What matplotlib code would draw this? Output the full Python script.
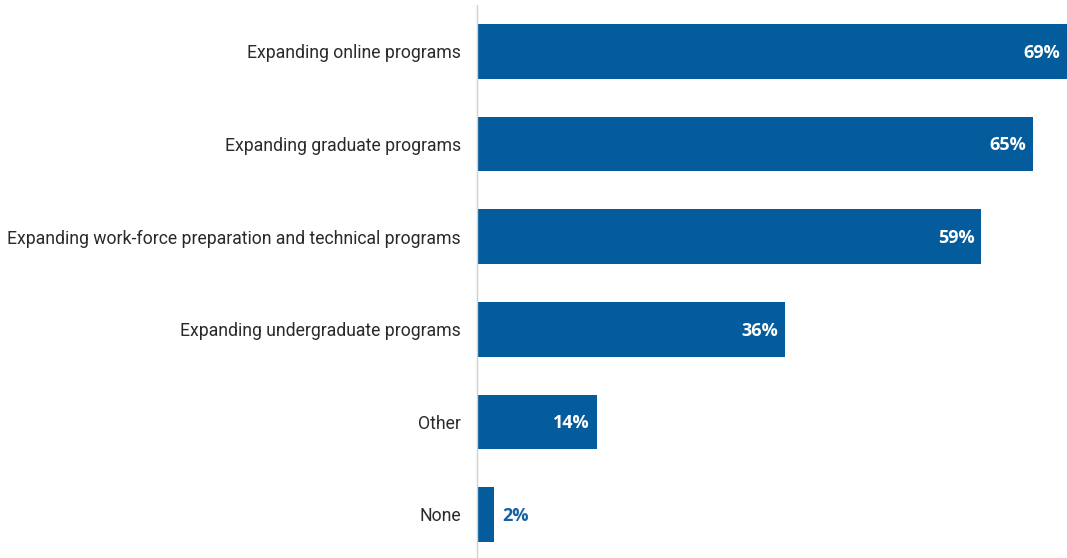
import matplotlib.pyplot as plt

plt.rcParams['font.family'] = ['Roboto', 'DejaVu Sans']

categories = [
    "Expanding online programs",
    "Expanding graduate programs",
    "Expanding work-force preparation and technical programs",
    "Expanding undergraduate programs",
    "Other",
    "None",
]
values = [69, 65, 59, 36, 14, 2]

bar_color = "#045c9c"

fig = plt.figure(figsize=(10.67, 5.58), dpi=100)
ax = fig.add_axes([477 / 1067, 0, 1 - 477 / 1067, 1 - 5 / 558])

pos = list(range(len(categories)))
ax.barh(pos, values, height=0.59, color=bar_color)
ax.set_xlim(0, 69)
ax.set_ylim(5.47, -0.5)

ax.set_yticks(pos)
ax.set_yticklabels(categories, fontsize=12.7, color="#2a2a2a")
ax.tick_params(axis="y", length=0, pad=11.5)
ax.set_xticks([])

for s in ["top", "right", "bottom"]:
    ax.spines[s].set_visible(False)
ax.spines["left"].set_color("#d0d0d0")
ax.spines["left"].set_linewidth(1)

for p, v in zip(pos, values):
    label = f"{v}%"
    if v > 5:
        ax.annotate(label, (v, p), xytext=(-5, -1), textcoords="offset points",
                    ha="right", va="center", color="white", fontsize=13,
                    fontweight="bold", family=["Open Sans", "DejaVu Sans"])
    else:
        ax.annotate(label, (v, p), xytext=(6, -1), textcoords="offset points",
                    ha="left", va="center", color="#1560a0", fontsize=13,
                    fontweight="bold", family=["Open Sans", "DejaVu Sans"])

fig.savefig("out.png", dpi=100)
